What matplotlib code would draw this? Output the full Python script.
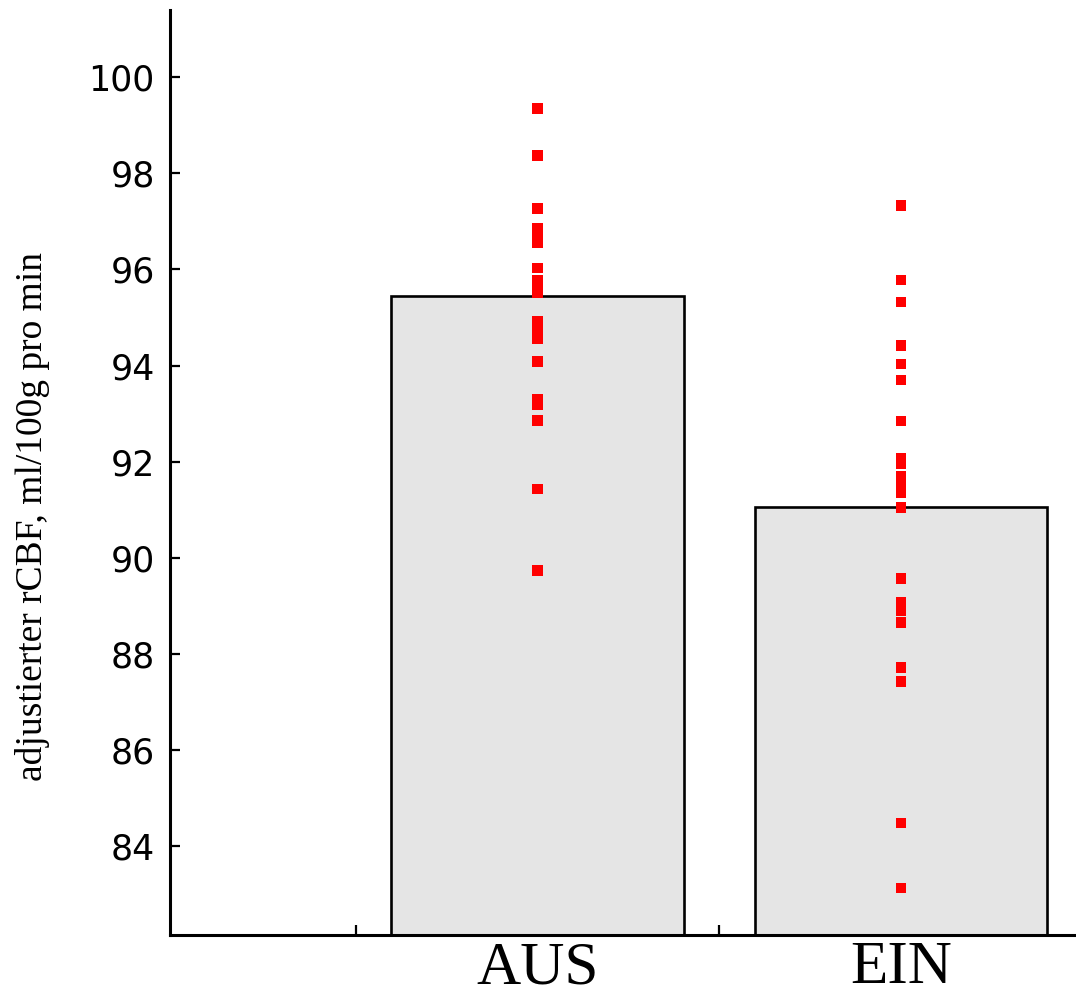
import matplotlib
matplotlib.use("Agg")
import matplotlib.pyplot as plt
import numpy as np

categories = ["AUS", "EIN"]
bar_means = [95.44, 91.05]
aus_values = [99.35, 98.37, 97.27, 96.85, 96.70, 96.55, 96.03, 95.78, 95.67, 95.52,
              94.92, 94.73, 94.65, 94.55, 94.08, 93.30, 93.18, 92.86, 91.43, 89.74]
ein_values = [97.33, 95.78, 95.32, 94.42, 94.03, 93.70, 92.85, 92.08, 91.96, 91.69,
              91.51, 91.35, 91.05, 89.57, 89.07, 88.90, 88.65, 87.72, 87.42, 84.48, 83.13]
yticks = [84, 86, 88, 90, 92, 94, 96, 98, 100]
ylabel = "adjustierter rCBF, ml/100g pro min"

fig = plt.figure(figsize=(10.76, 10.0), dpi=100)
ax = fig.add_axes([0.158, 0.065, 0.841, 0.925])

ymin, ymax = 82.15, 101.4
xpos = [1, 2]
ax.bar(xpos, [m - ymin for m in bar_means], bottom=ymin, width=0.805,
       color="#e5e5e5", edgecolor="black", linewidth=1.9, zorder=2)

for x, vals in zip(xpos, [aus_values, ein_values]):
    ax.scatter([x] * len(vals), vals, marker="s", s=58, color="#ff0000",
               edgecolors="none", zorder=3)

ax.set_xlim(-0.01, 2.478)
ax.set_ylim(ymin, ymax)

for side in ["top", "right"]:
    ax.spines[side].set_visible(False)
for side in ["left", "bottom"]:
    ax.spines[side].set_linewidth(2.2)
    ax.spines[side].set_zorder(4)

ax.set_yticks(yticks)
ax.set_yticklabels([str(t) for t in yticks])
ax.tick_params(axis="y", direction="in", length=7, width=1.6, pad=11,
               labelsize=25)
for lab in ax.get_yticklabels():
    lab.set_fontfamily("DejaVu Sans")

ax.set_xticks([0.5, 1.5])
ax.set_xticklabels(["", ""])
ax.tick_params(axis="x", which="major", direction="in", length=7, width=1.6)
ax.set_xticks(xpos, minor=True)
ax.set_xticklabels(categories, minor=True, fontfamily="Liberation Serif", fontsize=44)
ax.tick_params(axis="x", which="minor", length=0, pad=4)

ax.set_ylabel(ylabel, fontfamily="Liberation Serif", fontsize=27)
ax.yaxis.set_label_coords(-0.133, 0.452)

fig.savefig("out.png", dpi=100)
